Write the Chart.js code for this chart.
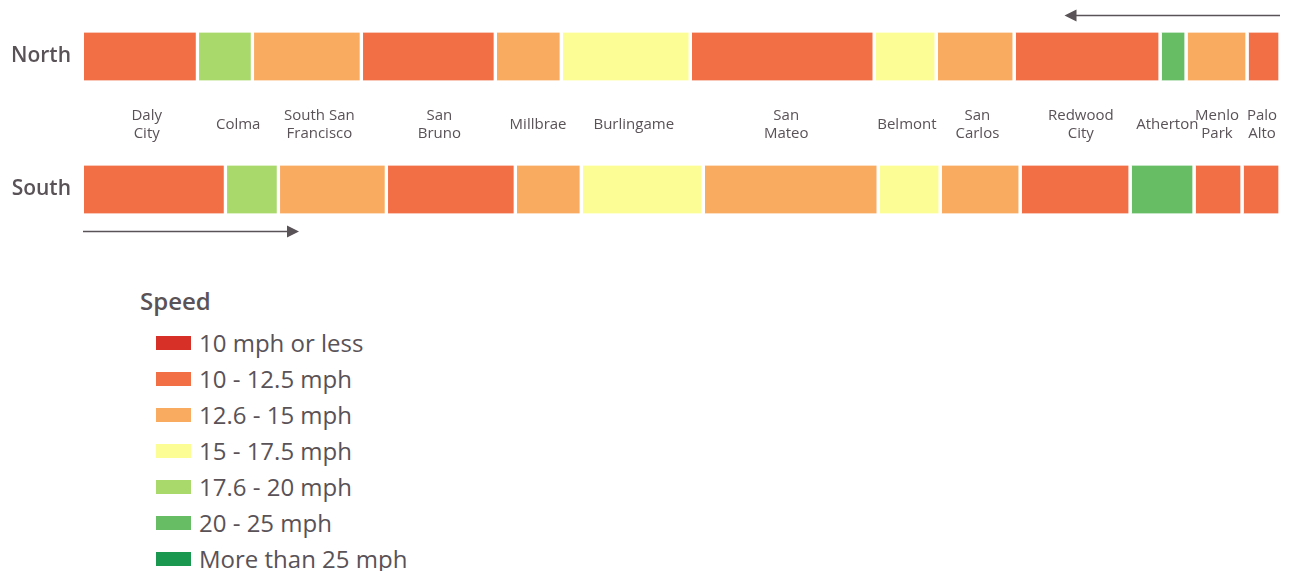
<!DOCTYPE html>
<html>
<head>
<meta charset="utf-8">
<script src="https://cdn.jsdelivr.net/npm/chart.js@4.4.1/dist/chart.umd.min.js"></script>
<style>
  body { margin: 0; background: #fff; width: 1290px; height: 571px; overflow: hidden; position: relative;
         font-family: "Open Sans", sans-serif; color: #595257; }
  #wrap { position: absolute; left: 0; top: -10px; width: 1290px; height: 266px; }
  #legend { position: absolute; left: 140px; top: 285px; }
  #legend .title { font-size: 24px; font-weight: 600; line-height: 32px; }
  #legend .items { margin-top: 8px; margin-left: 16px; }
  #legend .item { display: flex; align-items: center; height: 36px; font-size: 24px; line-height: 36px; }
  #legend .box { width: 35px; height: 14px; margin-right: 8px; }
</style>
</head>
<body>
<div id="wrap"><canvas id="speedChart"></canvas></div>
<div id="legend"><div class="title">Speed</div><div class="items" id="legendItems"></div></div>
<script>
const directions = ['North', 'South'];
const cities = [['Daly', 'City'], ['Colma'], ['South San', 'Francisco'], ['San', 'Bruno'], ['Millbrae'],
  ['Burlingame'], ['San', 'Mateo'], ['Belmont'], ['San', 'Carlos'], ['Redwood', 'City'], ['Atherton'],
  ['Menlo', 'Park'], ['Palo', 'Alto']];
// relative segment length along the corridor
const northLength = [115, 55, 109, 134, 66, 129, 184, 62, 78, 146, 26, 61, 33];
const southLength = [143, 53, 108, 129, 66, 122, 175, 62, 80, 110, 64, 48, 38];
// index into speedLabels
const northSpeed = [1, 4, 2, 1, 2, 3, 1, 3, 2, 1, 5, 2, 1];
const southSpeed = [1, 4, 2, 1, 2, 3, 2, 3, 2, 1, 5, 1, 1];
const speedLabels = ['10 mph or less', '10 - 12.5 mph', '12.6 - 15 mph', '15 - 17.5 mph',
  '17.6 - 20 mph', '20 - 25 mph', 'More than 25 mph'];
const speedColors = ['#d73027', '#f26e45', '#f9ab60', '#fdfd96', '#a8d96a', '#66bd63', '#1a9850'];

const textColor = '#595257';
const gap = 3.5;

const total = Math.max(northLength.reduce((a, b) => a + b, 0), southLength.reduce((a, b) => a + b, 0));

const datasets = cities.map(function (c, i) {
  return {
    label: c.join(' '),
    data: [northLength[i], southLength[i]],
    backgroundColor: [speedColors[northSpeed[i]], speedColors[southSpeed[i]]],
    borderColor: '#ffffff',
    borderWidth: { top: 0, bottom: 0, left: 0, right: gap },
    borderSkipped: false,
    barThickness: 48
  };
});

function arrow(ctx, x1, x2, y) {
  const dir = x2 > x1 ? 1 : -1;
  ctx.beginPath();
  ctx.moveTo(x1, y);
  ctx.lineTo(x2 - dir * 10, y);
  ctx.stroke();
  ctx.beginPath();
  ctx.moveTo(x2, y);
  ctx.lineTo(x2 - dir * 12, y - 6);
  ctx.lineTo(x2 - dir * 12, y + 6);
  ctx.closePath();
  ctx.fill();
}

const overlay = {
  id: 'overlay',
  afterDraw(chart) {
    const ctx = chart.ctx, xs = chart.scales.x, ys = chart.scales.y, area = chart.chartArea;
    const yN = ys.getPixelForValue(0), yS = ys.getPixelForValue(1);
    const mid = (yN + yS) / 2 + 2;
    ctx.save();
    ctx.fillStyle = textColor;
    ctx.strokeStyle = textColor;
    ctx.font = '15px "Open Sans"';
    ctx.textAlign = 'center';
    ctx.textBaseline = 'middle';
    let cumN = 0, cumS = 0;
    cities.forEach(function (lines, i) {
      const cN = xs.getPixelForValue(cumN + northLength[i] / 2);
      const cS = xs.getPixelForValue(cumS + southLength[i] / 2);
      const cx = (cN + cS) / 2 - gap / 2;
      if (lines.length === 1) {
        ctx.fillText(lines[0], cx, mid);
      } else {
        ctx.fillText(lines[0], cx, mid - 9);
        ctx.fillText(lines[1], cx, mid + 9);
      }
      cumN += northLength[i];
      cumS += southLength[i];
    });
    ctx.lineWidth = 1.5;
    arrow(ctx, area.right - 1.5, area.right - 217, yN - 24 - 17);
    arrow(ctx, area.left - 1, area.left + 215, yS + 24 + 18);
    ctx.restore();
  }
};

new Chart(document.getElementById('speedChart'), {
  type: 'bar',
  data: { labels: directions, datasets: datasets },
  options: {
    indexAxis: 'y',
    responsive: true,
    maintainAspectRatio: false,
    animation: false,
    layout: { padding: { left: 0, right: 8.5, top: 0, bottom: 0 } },
    plugins: { legend: { display: false }, tooltip: { enabled: false } },
    scales: {
      x: { stacked: true, display: false, min: 0, max: total },
      y: {
        stacked: true,
        grid: { display: false, drawTicks: false },
        border: { display: false },
        ticks: { padding: 13, color: textColor, font: { family: 'Open Sans', size: 21, weight: '600' } },
        afterFit: function (s) {
          s.width = 84;
          s.paddingTop = 0;
          s.paddingBottom = 0;
        }
      }
    }
  },
  plugins: [overlay]
});

const legendItems = document.getElementById('legendItems');
speedLabels.forEach(function (label, i) {
  const row = document.createElement('div');
  row.className = 'item';
  const box = document.createElement('span');
  box.className = 'box';
  box.style.background = speedColors[i];
  row.appendChild(box);
  row.appendChild(document.createTextNode(label));
  legendItems.appendChild(row);
});
</script>
</body>
</html>
